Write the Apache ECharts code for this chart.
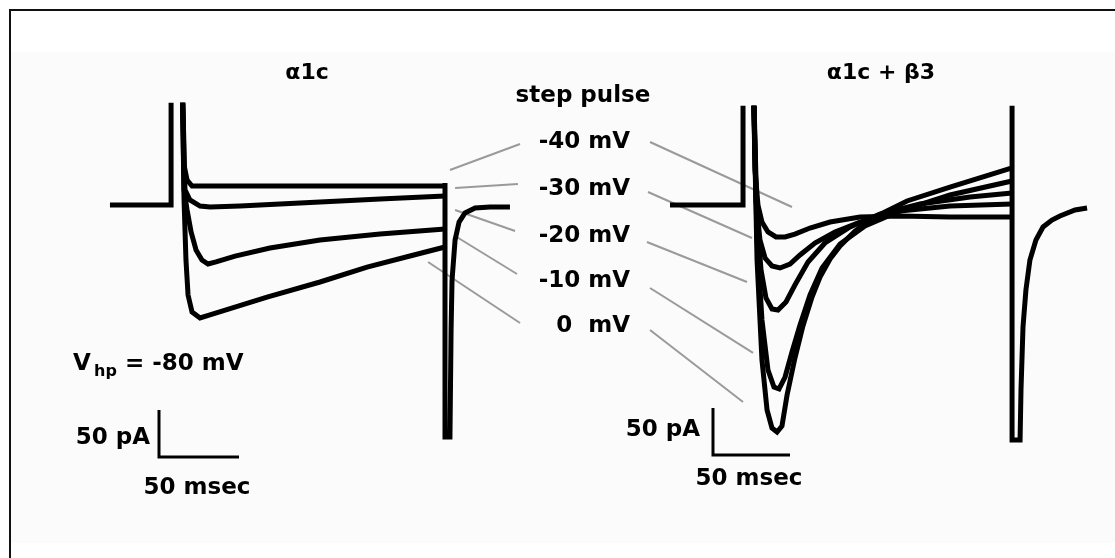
<!DOCTYPE html>
<html>
<head>
<meta charset="utf-8">
<script src="https://cdn.jsdelivr.net/npm/echarts@6/dist/echarts.min.js"></script>
<style>html,body{margin:0;padding:0;background:#fff}#c{width:1115px;height:558px}</style>
</head>
<body>
<div id="c"></div>
<script>
// ---- data: time in ms, current in pA (baseline = 0) ----
const stepLabels = ['-40 mV', '-30 mV', '-20 mV', '-10 mV', '0  mV'];
const panelTitles = ['\u03b11c', '\u03b11c + \u03b23'];

// alpha1c panel
const leftOnset = [[3.1,0],[41.3,0],[41.3,150]];
const leftTraceA = [[48.1,150],[49.4,42.6],[51.3,26.6],[54.4,20.2],[121.9,20.2],[212.5,20.2]];
const leftTraceB = [[48.1,150],[50.0,16.0],[53.1,5.3],[59.4,-1.1],[65.6,-2.1],[84.4,-1.1],[121.9,2.1],[171.9,6.4],[212.5,9.6]];
const leftTraceC = [[48.1,150],[49.4,16.0],[51.3,-5.3],[53.8,-28.7],[56.9,-47.9],[60.6,-58.5],[64.4,-62.8],[69.4,-60.6],[81.3,-54.3],[103.1,-45.7],[134.4,-37.2],[171.9,-30.9],[212.5,-25.5]];
const leftTraceD = [[48.1,150],[49.4,5.3],[50.6,-58.5],[51.9,-95.7],[54.4,-113.8],[59.4,-120.2],[65.6,-117.0],[101.3,-97.9],[134.4,-81.9],[163.8,-66.0],[190.6,-54.3],[212.5,-44.7]];
const leftTail = [[212.5,23.4],[212.5,-246.8],[215.6,-246.8],[216.3,-133.0],[216.9,-79.8],[218.8,-37.2],[221.3,-18.1],[225.0,-8.5],[231.3,-3.2],[240.6,-2.1],[253.1,-2.1]];

// alpha1c + beta3 panel
const rightOnset = [[19.5,0],[66.9,0],[66.9,150]];
const rightTraceM40 = [[73.4,150],[74.7,37.2],[76.6,0],[79.2,-18.1],[83.1,-28.7],[88.3,-34.0],[94.2,-34.0],[100.6,-30.9],[110.4,-24.5],[123.4,-18.1],[142.9,-12.8],[168.8,-11.7],[201.3,-12.8],[241.6,-12.8]];
const rightTraceM30 = [[73.4,150],[75.3,5.3],[77.9,-37.2],[81.2,-56.4],[85.7,-64.9],[90.9,-67.0],[97.4,-62.8],[103.9,-53.2],[113.6,-40.4],[126.6,-28.7],[142.9,-18.1],[168.8,-6.4],[201.3,-1.1],[241.6,1.1]];
const rightTraceM20 = [[73.4,150],[76.0,-16.0],[78.6,-69.1],[81.8,-98.9],[85.7,-110.6],[89.6,-111.7],[94.8,-103.2],[100.6,-85.1],[109.1,-60.6],[120.1,-40.4],[136.4,-23.4],[155.8,-9.6],[181.8,1.1],[214.3,8.5],[241.6,12.8]];
const rightTraceM10 = [[73.4,150],[76.0,-37.2],[79.2,-122.3],[83.1,-175.5],[87.0,-193.6],[90.3,-195.7],[94.2,-183.0],[98.7,-156.4],[103.9,-127.7],[110.4,-95.7],[118.2,-67.0],[129.9,-41.5],[146.1,-22.3],[168.8,-6.4],[201.3,10.6],[241.6,25.5]];
const rightTrace0 = [[73.4,150],[76.0,-58.5],[79.2,-164.9],[82.5,-218.1],[85.7,-237.2],[89.0,-241.5],[92.2,-235.1],[95.5,-202.1],[100.6,-162.8],[105.8,-128.7],[111.7,-97.9],[116.9,-76.6],[123.4,-57.4],[129.9,-43.6],[139.6,-27.7],[151.3,-13.8],[173.4,4.3],[201.3,19.1],[241.6,39.4]];
const rightTail = [[241.6,150],[241.6,-250],[246.8,-250],[247.4,-196.8],[248.7,-129.8],[250.6,-90.4],[253.2,-58.5],[257.1,-37.2],[261.7,-23.4],[267.5,-16.0],[272.7,-11.7],[282.5,-5.3],[290.3,-3.2]];

// leader lines (label end, trace end) per step, in each panel's units
const leftLeaders = [
  [[259.4,64.9],[215.6,37.2]],
  [[258.1,22.3],[218.8,18.1]],
  [[256.3,-27.7],[218.8,-5.3]],
  [[257.5,-73.4],[218.8,-33.0]],
  [[259.4,-125.5],[201.9,-60.6]]
];
const rightLeaders = [
  [[6.5,67.0],[98.7,-2.1]],
  [[5.2,13.8],[72.7,-35.1]],
  [[4.5,-39.4],[69.5,-81.9]],
  [[6.5,-88.3],[73.4,-157.4]],
  [[6.5,-133.0],[66.9,-209.6]]
];

// scale bars: 50 pA x 50 msec
const leftScaleBar = [[33.75,-218],[33.75,-268],[83.75,-268]];
const rightScaleBar = [[47.4,-216],[47.4,-266],[97.4,-266]];
const scaleTexts = ['50 pA', '50 msec'];
const holdingText = ['V', 'hp', '= -80 mV'];

// ---- chart ----
const chart = echarts.init(document.getElementById('c'), null, {renderer: 'canvas'});
const FONT = '"DejaVu Sans", sans-serif';
const traceStyle = {color: '#000', width: 5, join: 'miter', cap: 'butt'};

function trace(data, gi, style) {
  return {
    type: 'line', data: data, xAxisIndex: gi, yAxisIndex: gi,
    symbol: 'none', showSymbol: false, clip: true, animation: false, silent: true,
    lineStyle: style || traceStyle, z: 3
  };
}
const series = [];
[leftOnset, leftTraceA, leftTraceB, leftTraceC, leftTraceD, leftTail].forEach(d => series.push(trace(d, 0)));
[rightOnset, rightTraceM40, rightTraceM30, rightTraceM20, rightTraceM10, rightTrace0, rightTail].forEach(d => series.push(trace(d, 1)));
const leaderStyle = {color: '#9a9a9a', width: 2};
leftLeaders.forEach(d => series.push(Object.assign(trace(d, 0, leaderStyle), {z: 2})));
rightLeaders.forEach(d => series.push(Object.assign(trace(d, 1, leaderStyle), {z: 2})));
const barStyle = {color: '#000', width: 3, join: 'miter'};
series.push(trace(leftScaleBar, 0, barStyle));
series.push(trace(rightScaleBar, 1, barStyle));

function txt(text, x, y, align, size, vAlign) {
  return {
    type: 'text', z: 10, silent: true,
    style: {
      text: text, x: x, y: y,
      font: 'bold ' + (size || 23) + 'px ' + FONT,
      fill: '#000',
      align: align || 'center', verticalAlign: vAlign || 'middle',
      textAlign: align || 'center', textVerticalAlign: vAlign || 'middle'
    }
  };
}

const graphics = [
  {type: 'rect', z: 0, silent: true, shape: {x: 11, y: 52, width: 1104, height: 491}, style: {fill: '#fbfbfb'}},
  {type: 'polyline', z: 11, silent: true, shape: {points: [[10, 558], [10, 10], [1115, 10]]}, style: {stroke: '#111', lineWidth: 2, fill: null}},
  txt(panelTitles[0], 307, 73, 'center', 22),
  txt(panelTitles[1], 881, 73, 'center', 22),
  txt('step pulse', 583, 96, 'center', 23),
  txt(holdingText[0], 73, 364, 'left', 23),
  txt(holdingText[1], 94, 372, 'left', 16),
  txt(holdingText[2], 125, 364, 'left', 23),
  txt(scaleTexts[0], 150, 438, 'right', 23),
  txt(scaleTexts[1], 197, 488, 'center', 23),
  txt(scaleTexts[0], 700, 430, 'right', 23),
  txt(scaleTexts[1], 749, 479, 'center', 23)
];
const labelY = [142, 189, 236, 281, 326];
stepLabels.forEach((s, i) => graphics.push(txt(s, 630, labelY[i], 'right', 23)));

chart.setOption({
  animation: false,
  backgroundColor: '#ffffff',
  grid: [
    {left: 105, top: 205 - 106 * 0.94, width: 270 * 1.6, height: 416 * 0.94},
    {left: 640, top: 205 - 103 * 0.94, width: 300 * 1.54, height: 413 * 0.94}
  ],
  xAxis: [
    {gridIndex: 0, type: 'value', min: 0, max: 270, show: false},
    {gridIndex: 1, type: 'value', min: 0, max: 300, show: false}
  ],
  yAxis: [
    {gridIndex: 0, type: 'value', min: -310, max: 106, show: false},
    {gridIndex: 1, type: 'value', min: -310, max: 103, show: false}
  ],
  graphic: graphics,
  series: series
});
</script>
</body>
</html>
